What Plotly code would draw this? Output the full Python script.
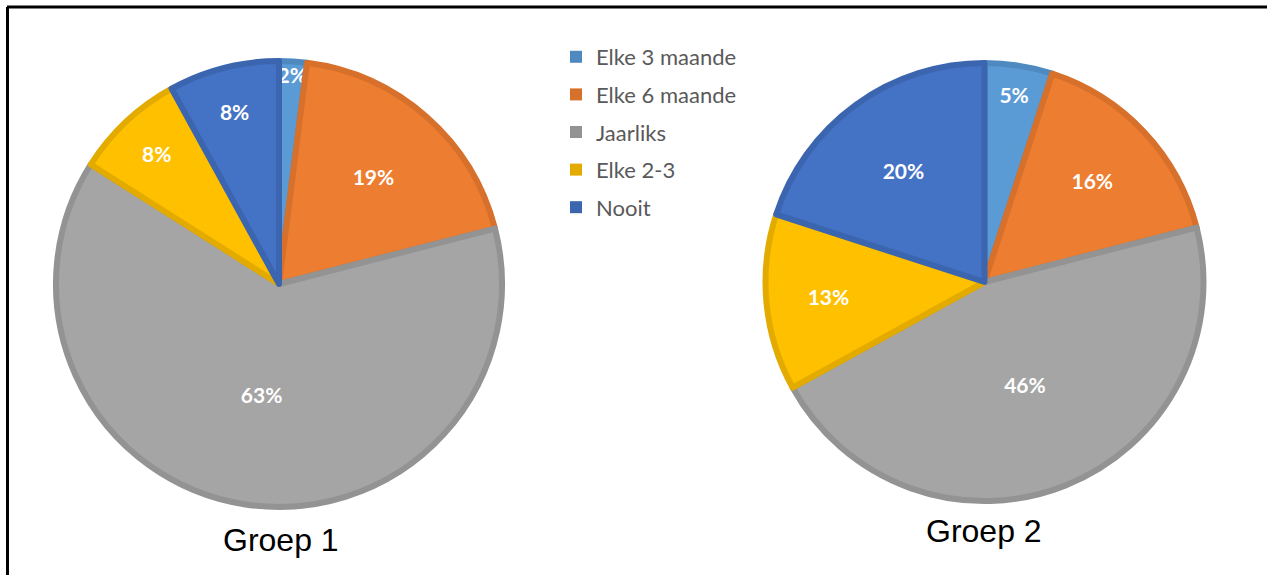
import plotly.graph_objects as go

categories = ["Elke 3 maande", "Elke 6 maande", "Jaarliks", "Elke 2-3", "Nooit"]
groep1 = [2, 19, 63, 8, 8]
groep2 = [5, 16, 46, 13, 20]
titles = ["Groep 1", "Groep 2"]

fill_colors = ["#5B9BD5", "#ED7D31", "#A5A5A5", "#FFC000", "#4472C4"]
edge_colors = ["#4E8AC0", "#D6702B", "#939393", "#E3AB00", "#3C65AF"]

W, H = 1267, 575

def px_x(v):
    return v / W

def px_y(v):
    return 1 - v / H

fig = go.Figure()

domains = [
    dict(x=[px_x(56), px_x(502)], y=[px_y(507), px_y(61)]),
    dict(x=[px_x(765), px_x(1204)], y=[px_y(501), px_y(63)]),
]

for vals, dom in zip([groep1, groep2], domains):
    fig.add_trace(go.Pie(
        labels=categories,
        values=vals,
        sort=False,
        direction="clockwise",
        rotation=0,
        domain=dom,
        marker=dict(colors=fill_colors, line=dict(color=edge_colors, width=6)),
        texttemplate="%{value}%",
        textposition="inside",
        insidetextorientation="horizontal",
        textfont=dict(family="Lato, Open Sans, sans-serif", size=21, color="white", weight="bold"),
        showlegend=False,
        hoverinfo="label+percent",
    ))

# legend entries
for cat, col in zip(categories, edge_colors):
    fig.add_trace(go.Scatter(
        x=[None], y=[None], mode="markers", name=cat,
        marker=dict(symbol="square", size=12, color=col),
        legendgroup=cat, showlegend=True,
    ))

# titles
title_pos = [(281, 540), (984, 531)]
for t, (x, y) in zip(titles, title_pos):
    fig.add_annotation(text=t, x=px_x(x), y=px_y(y), xref="paper", yref="paper",
                       showarrow=False, xanchor="center", yanchor="middle",
                       font=dict(family="Liberation Sans, Arial, sans-serif", size=32, color="black"))

# frame (top & left)
fig.add_shape(type="line", xref="paper", yref="paper", x0=px_x(7), x1=1.0, y0=px_y(7), y1=px_y(7),
              line=dict(color="black", width=3))
fig.add_shape(type="line", xref="paper", yref="paper", x0=px_x(7.5), x1=px_x(7.5), y0=px_y(7), y1=0,
              line=dict(color="black", width=3))

fig.update_layout(
    width=W, height=H,
    margin=dict(l=0, r=0, t=0, b=0),
    paper_bgcolor="white", plot_bgcolor="white",
    xaxis=dict(visible=False), yaxis=dict(visible=False),
    uniformtext=dict(minsize=21, mode="show"),
    legend=dict(
        x=px_x(556), y=px_y(36), xanchor="left", yanchor="top",
        font=dict(family="Lato, Open Sans, sans-serif", size=22, color="#595959"),
        traceorder="grouped", tracegroupgap=6,
        bgcolor="rgba(0,0,0,0)",
    ),
)

fig.write_html("out.html")
